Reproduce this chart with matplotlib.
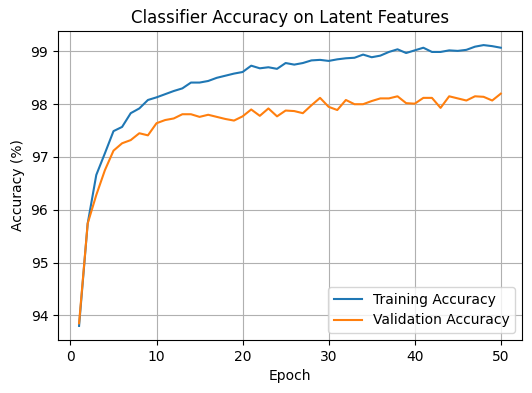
import numpy as np
import matplotlib
matplotlib.use("Agg")
import matplotlib.pyplot as plt

epochs = list(range(1, 51))

train_acc = [93.80, 95.74, 96.66, 97.07, 97.49, 97.57, 97.83, 97.92, 98.08, 98.13,
             98.19, 98.25, 98.30, 98.41, 98.41, 98.44, 98.50, 98.54, 98.58, 98.61,
             98.73, 98.68, 98.70, 98.67, 98.78, 98.75, 98.78, 98.83, 98.84, 98.82,
             98.85, 98.87, 98.88, 98.94, 98.89, 98.92, 98.99, 99.04, 98.97, 99.02,
             99.07, 98.99, 98.99, 99.02, 99.01, 99.03, 99.09, 99.12, 99.10, 99.07]

val_acc = [93.85, 95.74, 96.28, 96.75, 97.12, 97.26, 97.32, 97.45, 97.41, 97.64,
           97.70, 97.73, 97.81, 97.81, 97.76, 97.80, 97.76, 97.72, 97.69, 97.77,
           97.90, 97.78, 97.92, 97.77, 97.88, 97.87, 97.83, 97.98, 98.12, 97.95,
           97.89, 98.08, 98.00, 98.00, 98.06, 98.11, 98.11, 98.15, 98.02, 98.01,
           98.12, 98.12, 97.93, 98.15, 98.11, 98.07, 98.15, 98.14, 98.07, 98.20]

fig = plt.figure(figsize=(5.32, 3.93), dpi=100)
ax = fig.add_subplot(111)
fig.subplots_adjust(left=0.109, right=0.981, top=0.921, bottom=0.135)

ax.plot(epochs, train_acc, label='Training Accuracy')
ax.plot(epochs, val_acc, label='Validation Accuracy')
ax.set_title('Classifier Accuracy on Latent Features')
ax.set_xlabel('Epoch')
ax.set_ylabel('Accuracy (%)')
ax.legend(loc='lower right')
ax.grid(True)

fig.savefig('out.png', dpi=100)
